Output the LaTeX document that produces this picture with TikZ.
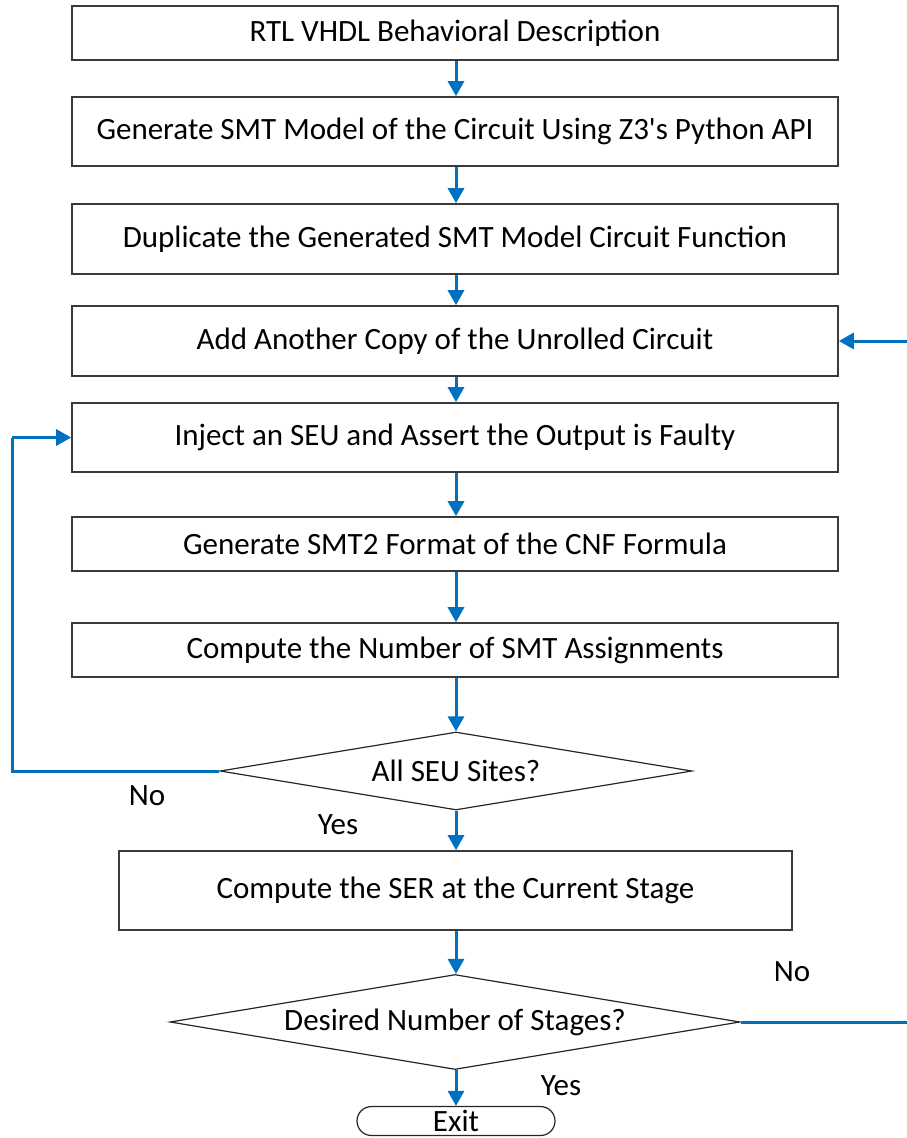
\documentclass[tikz,border=0pt]{standalone}
\usepackage{fontspec}
\setmainfont{Carlito}
% plain family without TeX input mapping, so ' stays a straight quote
\newfontfamily\flowfont{Carlito}
\usetikzlibrary{shapes.geometric,shapes.misc,arrows.meta}
\definecolor{flowblue}{HTML}{0070C0}
\definecolor{edgegray}{HTML}{3A3A3A}
\tikzset{
  stepbox/.style={draw=edgegray, line width=1.6pt, rectangle, inner sep=0pt, fill=white},
  choice/.style={draw=black!85, line width=1.2pt, diamond, inner sep=0pt, aspect=6},
  endbox/.style={draw=black!85, line width=1.2pt, rounded rectangle, inner sep=0pt},
  flow/.style={draw=flowblue, line width=3pt, -{Triangle[length=15pt,width=16pt]}},
  flowline/.style={draw=flowblue, line width=3pt},
  tag/.style={inner sep=0pt}
}
\begin{document}
\begin{tikzpicture}[x=1pt,y=-1pt,font=\fontsize{31}{36}\flowfont]
\useasboundingbox (0,0) rectangle (907,1138);

% process steps
\node[stepbox, minimum width=766pt, minimum height=54pt] (b1) at (455,33) {RTL VHDL Behavioral Description};
\node[stepbox, minimum width=766pt, minimum height=69pt] (b2) at (455,131.5) {Generate SMT Model of the Circuit Using Z3's Python API};
\node[stepbox, minimum width=766pt, minimum height=70pt] (b3) at (455,239) {Duplicate the Generated SMT Model Circuit Function};
\node[stepbox, minimum width=766pt, minimum height=70pt] (b4) at (455,341) {Add Another Copy of the Unrolled Circuit};
\node[stepbox, minimum width=766pt, minimum height=69pt] (b5) at (455,437.5) {Inject an SEU and Assert the Output is Faulty};
\node[stepbox, minimum width=766pt, minimum height=54pt] (b6) at (455,544) {Generate SMT2 Format of the CNF Formula};
\node[stepbox, minimum width=766pt, minimum height=54pt] (b7) at (455,650) {Compute the Number of SMT Assignments};

% first decision
\node[choice, minimum width=472pt, minimum height=78pt] (d1) at (456,771) {All SEU Sites?};

\node[stepbox, minimum width=673pt, minimum height=79pt] (b8) at (455.5,890.5) {Compute the SER at the Current Stage};

% second decision
\node[choice, minimum width=570pt, minimum height=95pt] (d2) at (455,1022) {Desired Number of Stages?};

\node[endbox, minimum width=198pt, minimum height=29pt] (ex) at (456,1121) {Exit};

% straight flow
\draw[flow] (b1.south -| 456,0) -- (b2.north -| 456,0);
\draw[flow] (b2.south -| 456,0) -- (b3.north -| 456,0);
\draw[flow] (b3.south -| 456,0) -- (b4.north -| 456,0);
\draw[flow] (b4.south -| 456,0) -- (b5.north -| 456,0);
\draw[flow] (b5.south -| 456,0) -- (b6.north -| 456,0);
\draw[flow] (b6.south -| 456,0) -- (b7.north -| 456,0);
\draw[flow] (b7.south -| 456,0) -- (d1.north);
\draw[flow] (d1.south) -- (b8.north -| 456,0);
\draw[flow] (b8.south -| 456,0) -- (d2.north -| 456,0);
\draw[flow] (d2.south -| 456,0) -- (ex.north);

% loop back for the remaining SEU sites
\coordinate (lc) at (12,771);
\draw[flowline] (d1.west) -- (lc) -- (lc |- b5.west);
\draw[flow] (12,437.5) -- (b5.west);

% loop back for another stage
\coordinate (rin) at (907,341);
\coordinate (rout) at (907,1022);
\draw[flowline] (d2.east) -- (rout);
\draw[flow] (rin) -- (b4.east);

% branch labels
\node[tag] (no1) at (147,796) {No};
\node[tag] (yes1) at (338,825) {Yes};
\node[tag] (no2) at (792,972) {No};
\node[tag] (yes2) at (561,1086) {Yes};
\end{tikzpicture}
\end{document}
